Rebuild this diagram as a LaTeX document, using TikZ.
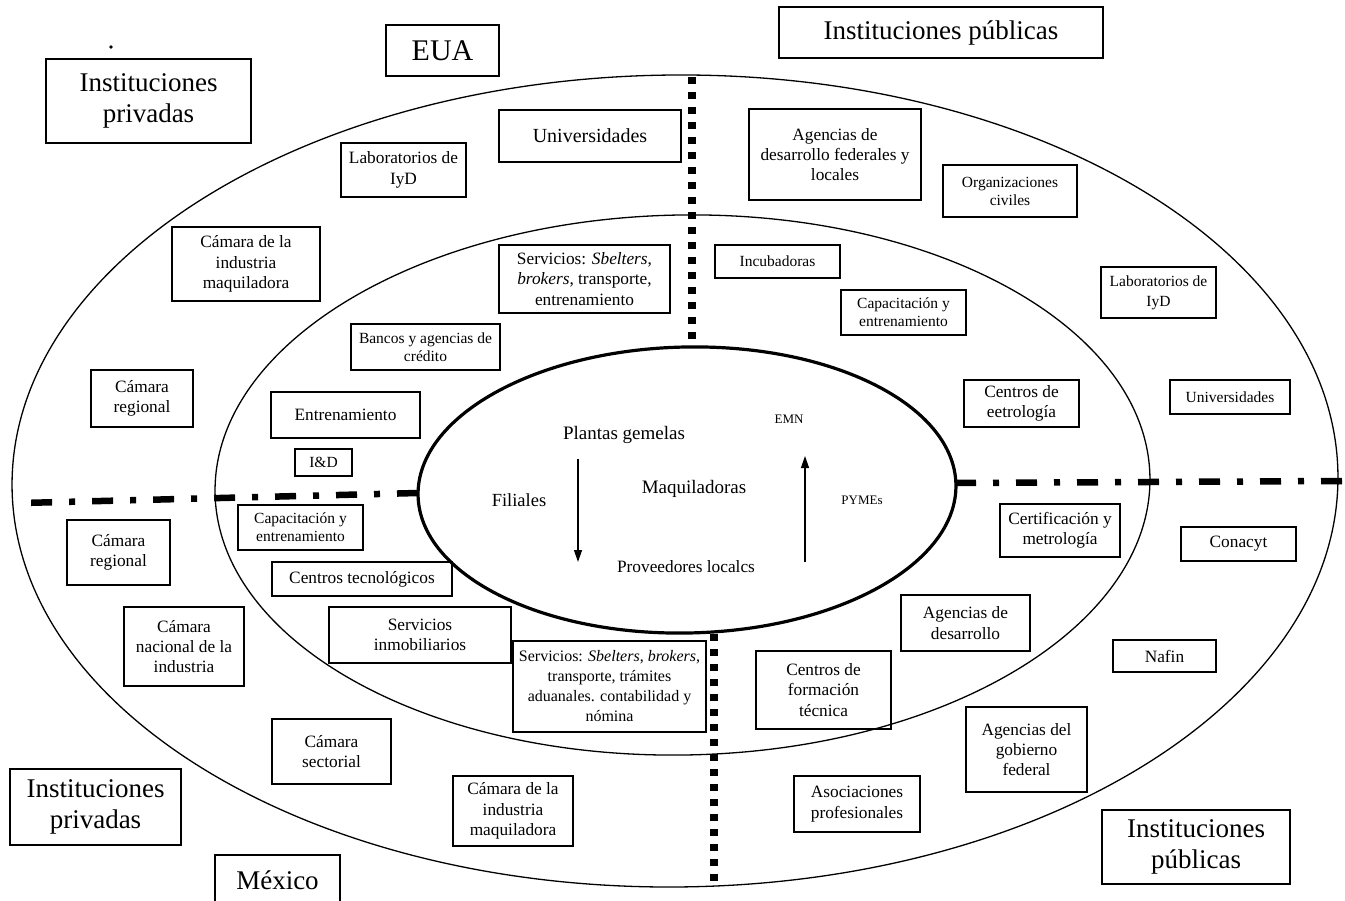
\documentclass[tikz,border=0pt]{standalone}
\usepackage{fontspec}
\setmainfont{Liberation Serif}
\usetikzlibrary{arrows.meta}
\tikzset{
  ibox/.style={draw, line width=1.2pt, inner sep=0pt, align=center, anchor=center},
  huge/.style={font=\fontsize{30}{34}\selectfont},
  big/.style={font=\fontsize{27}{31.5}\selectfont},
  univ/.style={font=\fontsize{20}{23}\selectfont},
  med/.style={font=\fontsize{17.3}{20.3}\selectfont},
  medb/.style={font=\fontsize{16}{20}\selectfont},
  sml/.style={font=\fontsize{15.5}{18}\selectfont},
  smlw/.style={font=\fontsize{15.5}{20}\selectfont},
  tiny/.style={font=\fontsize{13}{15}\selectfont},
  ctext/.style={font=\fontsize{19}{22}\selectfont, inner sep=0pt},
  ring/.style={line width=1.3pt},
  core/.style={line width=3.2pt},
  sqdot/.style={line width=8pt, dash pattern=on 7pt off 8pt},
  dashdot/.style={line width=6.5pt, dash pattern=on 21pt off 17pt on 6pt off 17pt},
  arr/.style={line width=1.3pt, -{Triangle[length=12pt,width=8pt]}},
}
\newcommand\mybox[7]{%
  \node[ibox,#6,minimum width={#4-#2},minimum height={#5-#3}] (#1) at ({(#2+#4)/2},{(#3+#5)/2}) {#7};}
\begin{document}
\begin{tikzpicture}[x=1pt,y=-1pt]
\useasboundingbox (0,0) rectangle (1345,901);
\fill[white] (0,0) rectangle (1345,901);

% rings
\draw[ring, rotate around={0.5:(675,481)}] (675,481) ellipse [x radius=663pt, y radius=406pt];
\draw[ring, rotate around={1:(682.5,485)}] (682.5,485) ellipse [x radius=467.5pt, y radius=270pt];

% dividing lines
\draw[sqdot] (692,77) -- (692,340);
\draw[sqdot] (714,634) -- (714,887);
\draw[dashdot] (418,493) -- (22,503);
\draw[dashdot] (955,483) -- (1345,481);

\draw[core, fill=white, rotate around={1.2:(687,490)}] (687,490) ellipse [x radius=269pt, y radius=143pt];

% stray mark
\fill (111,47) circle [radius=1.8pt];

% boxes
\mybox{eua}{386}{25}{499}{76}{huge}{EUA}
\mybox{ipubtop}{779}{7}{1103}{58}{big}{Instituciones públicas}
\mybox{iprivtop}{46}{59}{251}{143}{big}{Instituciones\\privadas}
\mybox{univa}{499}{110}{681}{162}{univ}{Universidades}
\mybox{laba}{341}{143}{466}{197}{med}{Laboratorios de\\IyD}
\mybox{agfed}{749}{109}{921}{200}{med}{Agencias de\\desarrollo federales y\\locales}
\mybox{orgciv}{943}{165}{1077}{217}{sml}{Organizaciones\\civiles}
\mybox{camindA}{172}{227}{320}{301}{med}{Cámara de la\\industria\\maquiladora}
\mybox{servA}{499}{245}{670}{313}{med}{Servicios: \textit{Sbelters},\\\textit{brokers}, transporte,\\entrenamiento}
\mybox{incub}{715}{245}{840}{278}{sml}{Incubadoras}
\mybox{capentA}{841}{290}{966}{335}{sml}{Capacitación y\\entrenamiento}
\mybox{labb}{1101}{267}{1216}{318}{smlw}{Laboratorios de\\IyD}
\mybox{bancos}{351}{324}{500}{370}{sml}{Bancos y agencias de\\crédito}
\mybox{camregA}{91}{370}{193}{427}{med}{Cámara\\regional}
\mybox{entren}{271}{392}{420}{438}{med}{Entrenamiento}
\mybox{iyd}{295}{449}{352}{476}{sml}{I\&D}
\mybox{cmetro}{964}{380}{1079}{427}{med}{Centros de\\eetrología}
\mybox{univb}{1170}{380}{1290}{414}{sml}{Universidades}
\mybox{capentB}{238}{505}{363}{550}{sml}{Capacitación y\\entrenamiento}
\mybox{camregB}{67}{520}{170}{585}{med}{Cámara\\regional}
\mybox{ctec}{272}{562}{452}{596}{med}{Centros tecnológicos}
\mybox{certmet}{1000}{504}{1120}{557}{med}{Certificación y\\metrología}
\mybox{conacyt}{1181}{527}{1296}{561}{med}{Conacyt}
\mybox{camnac}{124}{607}{244}{686}{med}{Cámara\\nacional de la\\industria}
\mybox{servinm}{329}{607}{511}{663}{med}{Servicios\\inmobiliarios}
\mybox{servB}{513}{641}{706}{732}{medb}{Servicios: \textit{Sbelters}, \textit{brokers},\\transporte, trámites\\aduanales. contabilidad y\\nómina}
\mybox{agdes}{901}{595}{1030}{651}{med}{Agencias de\\desarrollo}
\mybox{cform}{756}{651}{891}{729}{med}{Centros de\\formación\\técnica}
\mybox{nafin}{1113}{640}{1216}{672}{med}{Nafin}
\mybox{camsec}{272}{719}{391}{784}{med}{Cámara\\sectorial}
\mybox{aggob}{966}{707}{1087}{792}{med}{Agencias del\\gobierno\\federal}
\mybox{asoc}{794}{776}{920}{832}{med}{Asociaciones\\profesionales}
\mybox{camindB}{453}{776}{573}{846}{med}{Cámara de la\\industria\\maquiladora}
\mybox{iprivbot}{10}{769}{181}{845}{big}{Instituciones\\privadas}
\mybox{ipubbot}{1102}{810}{1290}{884}{big}{Instituciones\\públicas}

% México box (open at bottom edge)
\draw[line width=1.2pt] (215,915) |- (340,855) -- (340,915);
\node[big, inner sep=0pt] (mexico) at (277.5,880) {México};

% core texts
\node[ctext] (plantas) at (624,435) {Plantas gemelas};
\node[tiny, inner sep=0pt] (emn) at (789,419) {EMN};
\node[ctext, font=\fontsize{18.5}{22}\selectfont] (filiales) at (519,500) {Filiales};
\node[ctext] (maquila) at (694,489) {Maquiladoras};
\node[tiny, inner sep=0pt] (pymes) at (862,500) {PYMEs};
\node[ctext, font=\fontsize{17.3}{20}\selectfont] (provee) at (686,567) {Proveedores localcs};

% arrows
\coordinate (dnS) at (578,459);
\coordinate (dnE) at (578,562);
\coordinate (upS) at (805,562);
\coordinate (upE) at (805,456);
\draw[arr] (dnS) -- (dnE);
\draw[arr] (upS) -- (upE);
\end{tikzpicture}
\end{document}
